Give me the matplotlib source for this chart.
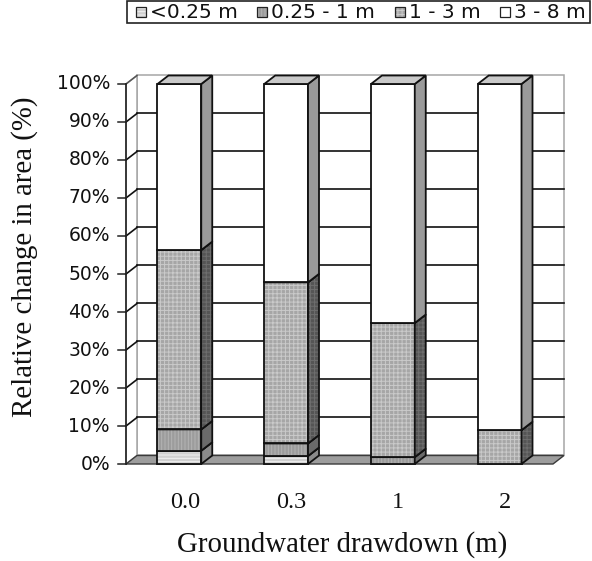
import matplotlib
matplotlib.use("Agg")
import matplotlib.pyplot as plt
from matplotlib.patches import Polygon, Rectangle

# ---- data -------------------------------------------------------------
categories = ["0.0", "0.3", "1", "2"]
classes = ["<0.25 m", "0.25 - 1 m", "1 - 3 m", "3 - 8 m"]
share_lt_025 = [3.5, 2.1, 0.0, 0.0]
share_025_1 = [5.6, 3.3, 1.8, 0.0]
share_1_3 = [47.2, 42.4, 35.3, 8.9]
share_3_8 = [43.7, 52.2, 62.9, 91.1]
y_ticks = [0, 10, 20, 30, 40, 50, 60, 70, 80, 90, 100]
y_tick_labels = [f"{v}%" for v in y_ticks]

series = [share_lt_025, share_025_1, share_1_3, share_3_8]

# ---- styles (front colour, hatch colour, hatch, side colour, top colour)
styles = [
    dict(fc="#cfcfcf", hc="#f0f0f0", hatch="-----", side="#8a8a8a", side_h=None, top="#e0e0e0"),
    dict(fc="#9c9c9c", hc="#b4b4b4", hatch="|||||", side="#6a6a6a", side_h=None, top="#bababa"),
    dict(fc="#a6a6a6", hc="#cacaca", hatch="++++", side="#555555", side_h="#6e6e6e", top="#c4c4c4"),
    dict(fc="#ffffff", hc="#ffffff", hatch=None, side="#9a9a9a", side_h=None, top="#c9c9c9"),
]

plt.rcParams["hatch.linewidth"] = 0.7

# 3-D look: depth offset in category units and percent units
DX = 0.103
DY = 2.24
BAR_W = 0.41
n = len(categories)

fig = plt.figure(figsize=(5.92, 5.61), dpi=100)
ax = fig.add_axes([0, 0, 1, 1])
ax.set_xlim(-1.1803, 4.3653)
ax.set_ylim(-25.526, 122.105)
ax.axis("off")

wall_edge = "#a6a6a6"

# back wall and left wall
ax.add_patch(Polygon([(DX, DY), (n + DX, DY), (n + DX, 100 + DY), (DX, 100 + DY)],
                     closed=True, facecolor="white", edgecolor=wall_edge, lw=1.1, zorder=1))
ax.add_patch(Polygon([(0, 0), (DX, DY), (DX, 100 + DY), (0, 100)],
                     closed=True, facecolor="white", edgecolor=wall_edge, lw=1.1, zorder=1))

# gridlines on both walls
for v in y_ticks[1:-1]:
    ax.plot([DX, n + DX], [v + DY, v + DY], color="#111111", lw=1.2, zorder=2)
    ax.plot([0, DX], [v, v + DY], color="#111111", lw=1.2, zorder=2)
ax.plot([0, DX], [100, 100 + DY], color="#555555", lw=1.1, zorder=2)

# floor
ax.add_patch(Polygon([(0, 0), (n, 0), (n + DX, DY), (DX, DY)], closed=True,
                     facecolor="#9d9d9d", edgecolor="#3a3a3a", lw=1.0, zorder=2))

# value axis line and ticks
ax.plot([0, 0], [0, 100], color="#222222", lw=1.2, zorder=3)
for v, lab in zip(y_ticks, y_tick_labels):
    ax.plot([-0.075, 0], [v, v], color="#222222", lw=1.1, zorder=3)
    ax.text(-0.15, v, lab, ha="right", va="center", fontsize=13.5,
            family="DejaVu Sans", color="#111111")

# every face is drawn with its own increasing zorder so later faces cover
# the outlines of the segments underneath
z = [10.0]


def face(pts, fc, hc=None, hatch=None):
    z[0] += 0.01
    if hatch:
        ax.add_patch(Polygon(pts, closed=True, facecolor=fc, edgecolor=hc,
                             hatch=hatch, lw=0, zorder=z[0]))
    else:
        ax.add_patch(Polygon(pts, closed=True, facecolor=fc, lw=0, zorder=z[0]))
    z[0] += 0.01
    ax.add_patch(Polygon(pts, closed=True, fill=False, edgecolor="#111111", lw=1.3,
                         joinstyle="miter", zorder=z[0]))


# stacked 3-D bars
for i in range(n):
    x0 = i + 0.5 - BAR_W / 2
    x1 = x0 + BAR_W
    base = 0.0
    for k, vals in enumerate(series):
        h = vals[i]
        if h <= 0:
            continue
        t = base + h
        st = styles[k]
        face([(x0, base), (x1, base), (x1, t), (x0, t)], st["fc"], st["hc"], st["hatch"])
        face([(x1, base), (x1 + DX, base + DY), (x1 + DX, t + DY), (x1, t)],
             st["side"], st["side_h"], "++++" if st["side_h"] else None)
        face([(x0, t), (x1, t), (x1 + DX, t + DY), (x0 + DX, t + DY)], st["top"])
        base = t
    ax.text(i + 0.5 + DX / 2, -11.6, categories[i], ha="center", va="baseline",
            fontsize=17.5, family="Liberation Serif", color="#111111")

ax.text(2.02, -23.2, "Groundwater drawdown (m)", ha="center", va="baseline",
        fontsize=20.8, family="Liberation Serif", color="#111111")
ax.text(-0.955, 54.5, "Relative change in area (%)", ha="center", va="center",
        rotation=90, fontsize=20.8, family="Liberation Serif", color="#111111")

# ---- legend (overlay axes in pixel units) --------------------------------
lax = fig.add_axes([0, 0, 1, 1])
lax.set_xlim(0, 592)
lax.set_ylim(561, 0)
lax.axis("off")
lax.add_patch(Rectangle((127, 1), 463, 22, facecolor="white", edgecolor="#222222", lw=1.2))

renderer = fig.canvas.get_renderer()
LEG_FS = 14.5
MARK = 10
MARK_GAP = 4
start, stop = 136, 586
texts = []
for lab in classes:
    t = lax.text(0, 12.5, lab, ha="left", va="center", fontsize=LEG_FS,
                 family="DejaVu Sans", color="#111111")
    texts.append(t)
widths = [t.get_window_extent(renderer).width for t in texts]
used = len(classes) * (MARK + MARK_GAP) + sum(widths)
gap = (stop - start - used) / (len(classes) - 1)
x = start
for st, t, w in zip(styles, texts, widths):
    lax.add_patch(Rectangle((x, 7), MARK, MARK, facecolor=st["fc"], edgecolor=st["hc"],
                            hatch=st["hatch"], lw=0))
    lax.add_patch(Rectangle((x, 7), MARK, MARK, fill=False, edgecolor="#222222", lw=0.9))
    t.set_x(x + MARK + MARK_GAP)
    x += MARK + MARK_GAP + w + gap

fig.savefig("out.png", dpi=100)
